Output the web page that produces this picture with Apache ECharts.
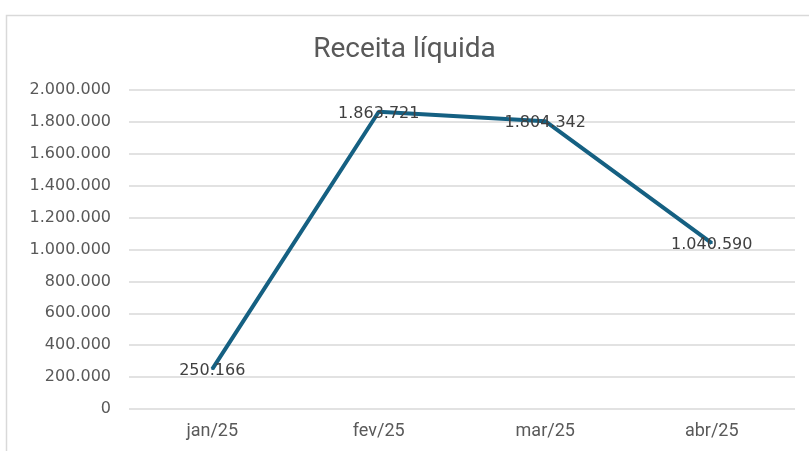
<!DOCTYPE html>
<html><head><meta charset="utf-8">
<script src="https://cdn.jsdelivr.net/npm/echarts@6/dist/echarts.min.js"></script>
<style>html,body{margin:0;padding:0;background:#fff}#c{width:809px;height:451px}</style>
</head><body><div id="c"></div>
<script>
const categories = ['jan/25','fev/25','mar/25','abr/25'];
const receita = [250166, 1863721, 1804342, 1040590];
const yTicks = {min: 0, max: 2000000, interval: 200000};
const titleText = 'Receita líquida';

function fmt(v){ return String(Math.round(v)).replace(/\B(?=(\d{3})+(?!\d))/g,'.'); }

const chart = echarts.init(document.getElementById('c'), null, {renderer:'canvas'});
chart.setOption({
  animation:false,
  backgroundColor:'#fff',
  graphic:[{type:'rect',left:4,top:13,shape:{width:830,height:460},style:{fill:'none',stroke:'#d9d9d9',lineWidth:1.5},silent:true}],
  title:{text:titleText,left:'center',top:31,textStyle:{fontFamily:"Roboto, sans-serif",fontWeight:'normal',fontSize:28,color:'#595959'}},
  grid:{left:129,right:14,top:90,bottom:42,containLabel:false},
  xAxis:{type:'category',data:categories,boundaryGap:true,
    axisLine:{show:false},axisTick:{show:false},
    axisLabel:{color:'#595959',fontSize:18,margin:13,fontFamily:"Roboto, sans-serif"}},
  yAxis:{type:'value',min:yTicks.min,max:yTicks.max,interval:yTicks.interval,
    axisLine:{show:false},axisTick:{show:false},
    splitLine:{lineStyle:{color:'#d9d9d9',width:1.5}},
    axisLabel:{color:'#595959',fontSize:16,margin:18,fontFamily:"'DejaVu Sans', sans-serif",formatter:fmt}},
  series:[{type:'line',data:receita,symbol:'circle',symbolSize:2,showSymbol:true,
    lineStyle:{color:'#156082',width:4},itemStyle:{color:'#156082'},
    label:{show:true,position:'inside',offset:[0,2],formatter:p=>fmt(p.value),color:'#404040',fontSize:16,fontFamily:"'DejaVu Sans', sans-serif"}}]
});
</script></body></html>
